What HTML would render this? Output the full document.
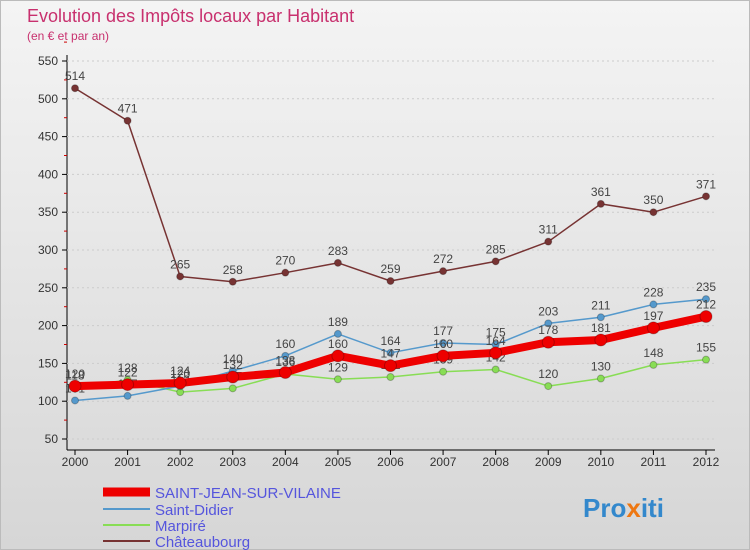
<!DOCTYPE html>
<html><head><meta charset="utf-8"><style>
body{margin:0;width:750px;height:550px;overflow:hidden;font-family:"Liberation Sans",sans-serif}
#root{position:relative;width:748px;height:548px;border:1px solid #bbb;background:linear-gradient(#f4f4f4,#d6d6d6)}
</style></head><body>
<div id="root">
<svg id="chart" width="750" height="550" style="position:absolute;left:-1px;top:-1px">
<text x="27" y="22" font-size="18" fill="#c8306e">Evolution des Impôts locaux par Habitant</text>
<text x="27" y="40" font-size="12" fill="#c8306e">(en € et par an)</text>
<g id="axes"></g><g id="series"></g>
<g>
<line x1="103" y1="492" x2="150" y2="492" stroke="#e00" stroke-width="9"/><text x="155" y="498" font-size="15" fill="#5555dd">SAINT-JEAN-SUR-VILAINE</text>
<line x1="103" y1="509" x2="150" y2="509" stroke="#5599cc" stroke-width="2"/><text x="155" y="515" font-size="15" fill="#5555dd">Saint-Didier</text>
<line x1="103" y1="525" x2="150" y2="525" stroke="#88dd55" stroke-width="2"/><text x="155" y="531" font-size="15" fill="#5555dd">Marpiré</text>
<line x1="103" y1="541" x2="150" y2="541" stroke="#773333" stroke-width="2"/><text x="155" y="547" font-size="15" fill="#5555dd">Châteaubourg</text>
</g>
<text x="583" y="517" font-size="26" font-weight="bold" fill="#3388cc">Pro<tspan fill="#ee7711">x</tspan>iti</text>
</svg>
</div>
<script>
const years=[2000,2001,2002,2003,2004,2005,2006,2007,2008,2009,2010,2011,2012];
const yTicks=[50,100,150,200,250,300,350,400,450,500,550];
const sjValues=[120,122,124,132,138,160,147,160,164,178,181,197,212];
const didierValues=[101,107,120,140,160,189,164,177,175,203,211,228,235];
const marpireValues=[118,128,112,117,136,129,132,139,142,120,130,148,155];
const chateauValues=[514,471,265,258,270,283,259,272,285,311,361,350,371];
const NS="http://www.w3.org/2000/svg";
const X0=75,X1=706,Y0=439,Y1=61;
const xs=i=>X0+(X1-X0)*i/(years.length-1);
const ys=v=>Y0-(v-50)*(Y0-Y1)/500;
function mk(t,a,p){const e=document.createElementNS(NS,t);for(const k in a)e.setAttribute(k,a[k]);p.appendChild(e);return e;}
const ax=document.getElementById('axes');
const yl=mk('line',{x1:67,y1:55,x2:67,y2:450,stroke:'#000'},ax);


const xl=mk('line',{x1:67,y1:450,x2:715,y2:450,stroke:'#000'},ax);


yTicks.forEach(v=>{
  mk('line',{x1:67,y1:ys(v),x2:715,y2:ys(v),stroke:'#ccc','stroke-dasharray':'2,3'},ax);
  mk('line',{x1:62,y1:ys(v),x2:67,y2:ys(v),stroke:'#000'},ax);
  mk('line',{x1:64,y1:ys(v+25),x2:67,y2:ys(v+25),stroke:'#c00'},ax);
  const t=mk('text',{x:58,y:ys(v)+4,'font-size':12,'text-anchor':'end',fill:'#333'},ax);t.textContent=v;
  
  
});
years.forEach((y,i)=>{
  mk('line',{x1:xs(i),y1:450,x2:xs(i),y2:455,stroke:'#000'},ax);
  const t=mk('text',{x:xs(i),y:466,'font-size':12,'text-anchor':'middle',fill:'#333'},ax);t.textContent=y;
  
  
});
const sg=document.getElementById('series');
function draw(vals,color,w,r,name){
  const g=mk('g',{},sg);
  
  
  mk('polyline',{points:vals.map((v,i)=>xs(i)+','+ys(v)).join(' '),fill:'none',stroke:color,'stroke-width':w,'stroke-linejoin':'round'},g);
  vals.forEach((v,i)=>{
    const c=mk('circle',{cx:xs(i),cy:ys(v),r:r,fill:color,stroke:'rgba(0,0,0,0.25)'},g);
    
    
    const t=mk('text',{x:xs(i),y:ys(v)-8,'font-size':12,'text-anchor':'middle',fill:'#444'},g);t.textContent=v;
    
    
  });
}
draw(chateauValues,'#773333',1.5,3.5,'series-chateaubourg');
draw(marpireValues,'#88dd55',1.5,3.5,'series-marpire');
draw(didierValues,'#5599cc',1.5,3.5,'series-saint-didier');
draw(sjValues,'#ee0000',8,6,'series-saint-jean');
</script>
</body></html>
